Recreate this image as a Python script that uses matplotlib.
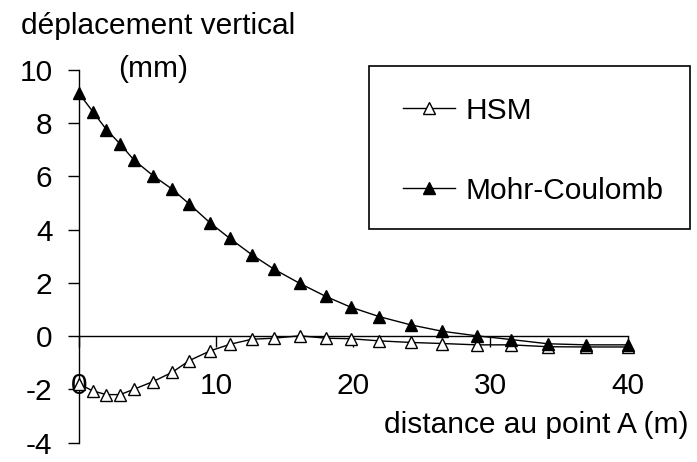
import matplotlib.pyplot as plt
from matplotlib.patches import Rectangle

plt.rcParams['font.family'] = ['Liberation Sans', 'DejaVu Sans']
plt.rcParams['axes.unicode_minus'] = False

# distance au point A (m)
distance = [0, 1, 2, 3, 4, 5.4, 6.8, 8.05, 9.55, 11.0, 12.6, 14.2, 16.1,
            18.0, 19.8, 21.9, 24.2, 26.5, 29.0, 31.5, 34.2, 37.0, 40.0]

# déplacement vertical (mm)
hsm = [-1.8, -2.06, -2.2, -2.2, -2.0, -1.71, -1.36, -0.92, -0.56, -0.31,
       -0.12, -0.08, 0.01, -0.08, -0.1, -0.18, -0.24, -0.28, -0.33, -0.33,
       -0.4, -0.41, -0.41]
mohr = [9.12, 8.44, 7.76, 7.22, 6.62, 6.03, 5.52, 4.96, 4.26, 3.67, 3.06,
        2.52, 1.98, 1.49, 1.09, 0.73, 0.42, 0.18, 0.01, -0.13, -0.29, -0.33,
        -0.33]

x_ticks = [0, 10, 20, 30, 40]
y_ticks = [-4, -2, 0, 2, 4, 6, 8, 10]

fs = 21.5

fig = plt.figure(figsize=(6.97, 4.62), dpi=100)
ax = fig.add_axes([79 / 697, 1 - 442.5 / 462, 548.5 / 697, 372.5 / 462])

ax.plot(distance, hsm, color='black', lw=1.0, marker='^', ms=8.5,
        mfc='white', mec='black', mew=1.0, label='HSM', clip_on=False, zorder=3)
ax.plot(distance, mohr, color='black', lw=1.0, marker='^', ms=8,
        mfc='black', mec='black', label='Mohr-Coulomb', clip_on=False, zorder=4)

ax.set_xlim(0, 40)
ax.set_ylim(-4, 10)
ax.set_xticks(x_ticks)
ax.set_yticks(y_ticks)

ax.spines['top'].set_visible(False)
ax.spines['right'].set_visible(False)
ax.spines['bottom'].set_position(('data', 0))
for s in ('left', 'bottom'):
    ax.spines[s].set_linewidth(1.0)

ax.tick_params(axis='x', direction='out', length=8, width=1.0, pad=18,
               labelsize=fs)
ax.tick_params(axis='y', direction='out', length=8, width=1.0, pad=11,
               labelsize=fs)

fig.text(158 / 697, 1 - 34.5 / 462, 'déplacement vertical', fontsize=fs,
         ha='center', va='baseline')
fig.text(153 / 697, 1 - 77 / 462, '(mm)', fontsize=fs,
         ha='center', va='baseline')
fig.text(536 / 697, 1 - 433 / 462, 'distance au point A (m)', fontsize=fs,
         ha='center', va='baseline')

# legend box
fig.patches.append(Rectangle((369 / 697, 1 - 229 / 462), 321 / 697, 163 / 462,
                             transform=fig.transFigure, fill=False,
                             edgecolor='black', lw=1.2))
ax.legend(loc='center left', bbox_to_anchor=(403 / 697, 1 - 150.7 / 462),
          bbox_transform=fig.transFigure, frameon=False, fontsize=fs,
          handlelength=1.75, handletextpad=0.35, labelspacing=1.75,
          borderpad=0, borderaxespad=0)

fig.savefig('out.png', dpi=100)
